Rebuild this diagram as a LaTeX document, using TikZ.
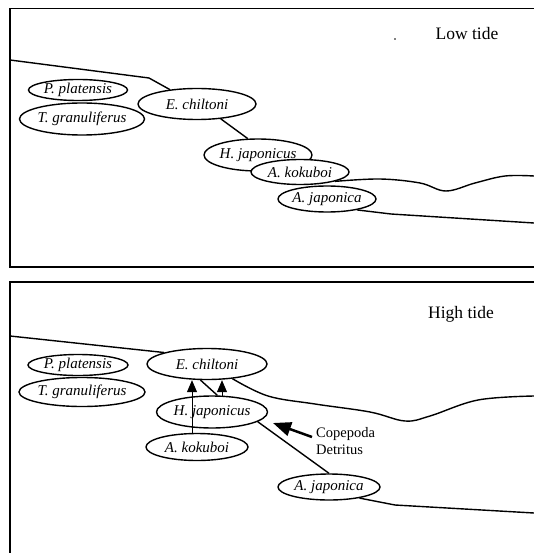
\documentclass[tikz,border=0pt]{standalone}
\usepackage{fontspec}
\setmainfont{Liberation Serif}
\usetikzlibrary{arrows.meta,shapes.geometric,calc}
\begin{document}
\begin{tikzpicture}[x=1pt,y=-1pt,
  frame/.style={line width=1.5pt},
  shore/.style={line width=1.4pt, line join=round},
  ell/.style={ellipse, draw, line width=1.4pt, fill=white, inner sep=0pt},
  lbl/.style={font=\fontsize{15}{17}\selectfont\itshape, inner sep=0pt},
  title/.style={font=\fontsize{17.5}{20}\selectfont, inner sep=0pt},
  note/.style={font=\fontsize{14.5}{17}\selectfont, inner sep=0pt, align=left},
  feed/.style={line width=1pt, -{Triangle[length=12pt,width=10pt]}},
  food/.style={line width=2.5pt, -{Triangle[length=18pt,width=14pt]}}]
\useasboundingbox (0,0) rectangle (534,553);

% frames
\draw[frame] (534,8.5) -- (10,8.5) -- (10,267) -- (534,267);
\draw[frame] (534,282) -- (10,282) -- (10,553);

% ---------- Low tide ----------
\node[ell, minimum width=99pt, minimum height=21pt] (ppT) at (78,90) {};
\node[ell, minimum width=125pt, minimum height=32pt] (tgT) at (82,119) {};
\node[ell, minimum width=118pt, minimum height=31pt] (ecT) at (197,104) {};
\node[ell, minimum width=108pt, minimum height=32pt] (hjT) at (258,155) {};
\node[ell, minimum width=98pt, minimum height=25pt] (akT) at (300,172) {};
\node[ell, minimum width=98pt, minimum height=26pt] (ajT) at (327,199) {};

\draw[shore] (10,60) -- (149,78) -- (ecT.152);
\draw[shore] (ecT.-32) -- (hjT.122);
\draw[shore] plot[smooth, tension=0.6] coordinates {(akT.-15) (380,179) (420,183) (446,191) (475,183) (505,176) (534,176)};
\draw[shore] (ajT.-20) -- (391,214) -- (534,223);
\fill (395,39) circle (0.8pt);

% ---------- High tide ----------
\node[ell, minimum width=100pt, minimum height=21pt] (ppB) at (78,365) {};
\node[ell, minimum width=126pt, minimum height=29pt] (tgB) at (82,392) {};
\node[ell, minimum width=120pt, minimum height=31pt] (ecB) at (207,364) {};
\node[ell, minimum width=111pt, minimum height=32pt] (hjB) at (212,412) {};
\node[ell, minimum width=102pt, minimum height=27pt] (akB) at (197,447) {};
\node[ell, minimum width=102pt, minimum height=26pt] (ajB) at (329,487) {};

\draw[shore] (10,336) -- (ecB.165);
\draw[shore] plot[smooth, tension=0.6] coordinates {(ecB.-30) (268,396) (315,404) (370,412) (405,421) (430,416) (478,400) (534,396)};
\draw[shore] (ecB.-112) -- (hjB.72);
\draw[shore] (hjB.-12) -- (ajB.north);
\draw[shore] (ajB.-20) -- (395,505) -- (534,513);

\coordinate (a1) at ($(akB.north)+(-5,0)$);
\coordinate (b1) at ($(hjB.north)+(10,0.5)$);
\draw[feed] (a1) -- (a1 |- ecB.south);
\draw[feed] (b1) -- (b1 |- ecB.south);

\coordinate (cpT) at (312,437);
\coordinate (cpH) at (273,423);
\draw[food] (cpT) -- (cpH);

% ---------- texts ----------
\node[title] (lowt) at (467,34) {Low tide};
\node[title] (hight) at (461,314) {High tide};

\node[lbl] (ppTl) at (ppT) {P. platensis};
\node[lbl] (tgTl) at (tgT) {T. granuliferus};
\node[lbl] (ecTl) at (ecT) {E. chiltoni};
\node[lbl] (hjTl) at (hjT) {H. japonicus};
\node[lbl] (akTl) at (akT) {A. kokuboi};
\node[lbl] (ajTl) at (ajT) {A. japonica};

\node[lbl] (ppBl) at (ppB) {P. platensis};
\node[lbl] (tgBl) at (tgB) {T. granuliferus};
\node[lbl] (ecBl) at (ecB) {E. chiltoni};
\node[lbl] (hjBl) at (hjB) {H. japonicus};
\node[lbl] (akBl) at (akB) {A. kokuboi};
\node[lbl] (ajBl) at (ajB) {A. japonica};

\node[note, anchor=west] (cop) at (316,441) {Copepoda\\Detritus};
\end{tikzpicture}
\end{document}
